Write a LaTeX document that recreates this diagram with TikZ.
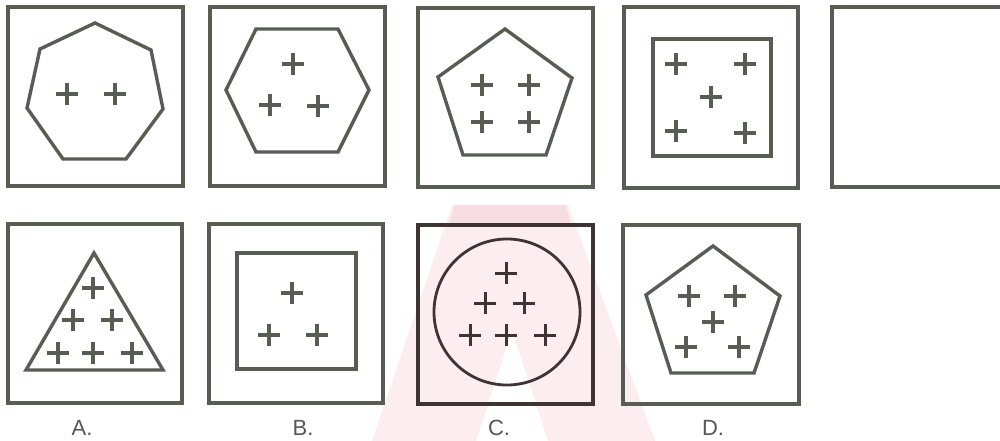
\documentclass[tikz,border=0pt]{standalone}
\usepackage{fontspec}
\setmainfont{Liberation Sans}
\definecolor{ink}{RGB}{88,93,84}
\definecolor{inkc}{RGB}{62,52,54}
\definecolor{lbl}{RGB}{85,88,85}
\definecolor{wm}{RGB}{252,237,241}
\definecolor{wmtop}{RGB}{248,220,228}
\tikzset{
  outerbox/.style={draw=ink, line width=4.4pt},
  figline/.style={draw=ink, line width=3.4pt, line join=miter},
  crossline/.style={draw=ink, line width=3.8pt},
  crossmark/.pic={\draw[crossline] (-11,0) -- (11,0) (0,-11) -- (0,11);},
  crossmarkc/.pic={\draw[crossline, draw=inkc, line width=3pt] (-11,0) -- (11,0) (0,-11) -- (0,11);},
  lab/.style={text=lbl, font=\fontsize{22}{24}\selectfont, inner sep=0pt}
}
\begin{document}
\begin{tikzpicture}[x=1pt,y=-1pt]
\useasboundingbox (0,0) rectangle (1000,441);
\clip (0,0) rectangle (1000,441);
\fill[white] (0,0) rectangle (1000,441);
% watermark
\fill[wm] (372,441) -- (452,205) -- (568,205) -- (655,441) -- (548,441) -- (512,330) -- (476,441) -- cycle;
\fill[wmtop] (455,205) -- (565,205) -- (572,226) -- (448,226) -- cycle;
% top row
\draw[outerbox] (8,7) rectangle (183,186);
\draw[figline] (95,23) -- (151,50) -- (163,109) -- (126,159) -- (63,159) -- (27,108) -- (40,49) -- cycle;
\pic at (67,94) {crossmark};
\pic at (115,94) {crossmark};

\draw[outerbox] (210,7) rectangle (385,186);
\draw[figline] (256,29) -- (338,29) -- (369,90) -- (338,152) -- (256,152) -- (226,90) -- cycle;
\pic at (293,64) {crossmark};
\pic at (270,105) {crossmark};
\pic at (318,106) {crossmark};

\draw[outerbox] (418,8) rectangle (593,187);
\draw[figline] (505,29) -- (572,78) -- (546,155) -- (463,155) -- (438,77) -- cycle;
\pic at (482,85) {crossmark};
\pic at (529,85) {crossmark};
\pic at (482,122) {crossmark};
\pic at (529,122) {crossmark};

\draw[outerbox] (624,7) rectangle (798,188);
\draw[figline] (653,39) rectangle (771,156);
\pic at (676,64) {crossmark};
\pic at (745,64) {crossmark};
\pic at (711,97) {crossmark};
\pic at (676,131) {crossmark};
\pic at (745,133) {crossmark};

\draw[outerbox] (832,7) rectangle (1010,187);

% bottom row
\draw[outerbox] (8,224) rectangle (182,403);
\draw[figline] (94,253) -- (163,370) -- (26,370) -- cycle;
\pic at (93,288) {crossmark};
\pic at (73,320) {crossmark};
\pic at (112,320) {crossmark};
\pic at (58,353) {crossmark};
\pic at (93,353) {crossmark};
\pic at (132,353) {crossmark};
\node[lab] (la) at (82,428) {A.};

\draw[outerbox] (209,224) rectangle (383,403);
\draw[figline] (237,253) rectangle (356,369);
\pic at (292,293) {crossmark};
\pic at (269,335) {crossmark};
\pic at (317,335) {crossmark};
\node[lab] (lb) at (303,428) {B.};

\draw[outerbox, draw=inkc, line width=3.8pt] (418,225) rectangle (593,404);
\draw[figline, draw=inkc, line width=2.8pt] (507,312) circle[radius=73];
\pic at (506,273) {crossmarkc};
\pic at (485,303) {crossmarkc};
\pic at (524,303) {crossmarkc};
\pic at (470,335) {crossmarkc};
\pic at (506,335) {crossmarkc};
\pic at (545,335) {crossmarkc};
\node[lab] (lc) at (499,428) {C.};

\draw[outerbox] (623,225) rectangle (799,404);
\draw[figline] (713,246) -- (780,296) -- (754,373) -- (671,373) -- (646,295) -- cycle;
\pic at (689,296) {crossmark};
\pic at (735,296) {crossmark};
\pic at (713,322) {crossmark};
\pic at (686,347) {crossmark};
\pic at (739,347) {crossmark};
\node[lab] (ld) at (713,428) {D.};
\end{tikzpicture}
\end{document}
